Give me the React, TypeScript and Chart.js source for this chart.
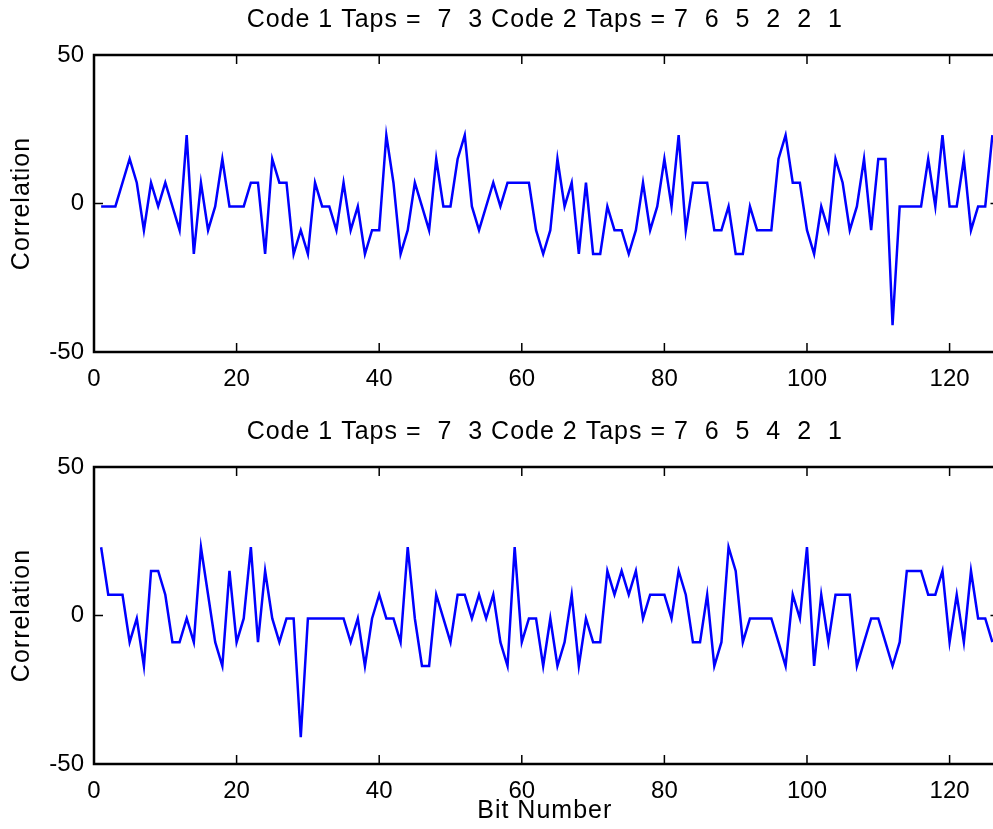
import React, { useEffect, useRef } from "react";
import { Chart, registerables } from "chart.js";

Chart.register(...registerables);

const bitNumbers: number[] = Array.from({ length: 126 }, (_, i) => i + 1);

const corrTop: number[] = [
  -1, -1, -1, 7, 15, 7, -9, 7, -1, 7,
  -1, -9, 23, -17, 7, -9, -1, 15, -1, -1,
  -1, 7, 7, -17, 15, 7, 7, -17, -9, -17,
  7, -1, -1, -9, 7, -9, -1, -17, -9, -9,
  23, 7, -17, -9, 7, -1, -9, 15, -1, -1,
  15, 23, -1, -9, -1, 7, -1, 7, 7, 7,
  7, -9, -17, -9, 15, -1, 7, -17, 7, -17,
  -17, -1, -9, -9, -17, -9, 7, -9, -1, 15,
  -1, 23, -9, 7, 7, 7, -9, -9, -1, -17,
  -17, -1, -9, -9, -9, 15, 23, 7, 7, -9,
  -17, -1, -9, 15, 7, -9, -1, 15, -9, 15,
  15, -41, -1, -1, -1, -1, 15, -1, 23, -1,
  -1, 15, -9, -1, -1, 23,
];

const corrBottom: number[] = [
  23, 7, 7, 7, -9, -1, -17, 15, 15, 7,
  -9, -9, -1, -9, 23, 7, -9, -17, 15, -9,
  -1, 23, -9, 15, -1, -9, -1, -1, -41, -1,
  -1, -1, -1, -1, -1, -9, -1, -17, -1, 7,
  -1, -1, -9, 23, -1, -17, -17, 7, -1, -9,
  7, 7, -1, 7, -1, 7, -9, -17, 23, -9,
  -1, -1, -17, -1, -17, -9, 7, -17, -1, -9,
  -9, 15, 7, 15, 7, 15, -1, 7, 7, 7,
  -1, 15, 7, -9, -9, 7, -17, -9, 23, 15,
  -9, -1, -1, -1, -1, -9, -17, 7, -1, 23,
  -17, 7, -9, 7, 7, 7, -17, -9, -1, -1,
  -9, -17, -9, 15, 15, 15, 7, 7, 15, -9,
  7, -9, 15, -1, -1, -9,
];

const xTickValues: number[] = [0, 20, 40, 60, 80, 100, 120];
const yTickValues: number[] = [-50, 0, 50];

const titleTop = "Code 1 Taps =  7  3 Code 2 Taps = 7  6  5  2  2  1";
const titleBottom = "Code 1 Taps =  7  3 Code 2 Taps = 7  6  5  4  2  1";
const yLabel = "Correlation";
const xLabel = "Bit Number";

const FONT = "'Liberation Sans', Arial, Helvetica, sans-serif";

const matlabPlugin = {
  id: "matlabBox",
  afterDraw(chart: any) {
    const o = chart.options.plugins.matlabBox || {};
    const { ctx, chartArea: a, scales } = chart;
    ctx.save();
    ctx.strokeStyle = "#000";
    ctx.lineWidth = 2.5;
    ctx.strokeRect(a.left, a.top, a.right - a.left, a.bottom - a.top);
    const L = 9;
    ctx.beginPath();
    for (const v of xTickValues) {
      const px = scales.x.getPixelForValue(v);
      ctx.moveTo(px, a.bottom);
      ctx.lineTo(px, a.bottom - L);
      ctx.moveTo(px, a.top);
      ctx.lineTo(px, a.top + L);
    }
    for (const v of yTickValues) {
      const py = scales.y.getPixelForValue(v);
      ctx.moveTo(a.left, py);
      ctx.lineTo(a.left + L, py);
      ctx.moveTo(a.right, py);
      ctx.lineTo(a.right - L, py);
    }
    ctx.lineWidth = 1.5;
    ctx.stroke();

    ctx.fillStyle = "#000";
    ctx.font = `25px ${FONT}`;
    (ctx as any).letterSpacing = "1px";
    ctx.textAlign = "center";
    ctx.textBaseline = "middle";
    if (o.title) ctx.fillText(o.title, (a.left + a.right) / 2 - 2, o.titleY);
    if (o.xLabel) ctx.fillText(o.xLabel, (a.left + a.right) / 2 - 2, o.xLabelY);
    if (o.yLabel) {
      ctx.save();
      ctx.translate(o.yLabelX, (a.top + a.bottom) / 2);
      ctx.rotate(-Math.PI / 2);
      ctx.fillText(o.yLabel, 0, 0);
      ctx.restore();
    }
    (ctx as any).letterSpacing = "0px";
    ctx.restore();
  },
};

function makeChart(
  canvas: HTMLCanvasElement,
  values: number[],
  title: string,
  xAxisHeight: number,
  withXLabel: boolean
) {
  return new Chart(canvas, {
    type: "line",
    data: {
      datasets: [
        {
          data: bitNumbers.map((x, i) => ({ x, y: values[i] })),
          borderColor: "#0000ff",
          borderWidth: 2.5,
          pointRadius: 0,
          tension: 0,
          fill: false,
        },
      ],
    },
    options: {
      animation: false,
      responsive: false,
      devicePixelRatio: 1,
      layout: { padding: { top: 55, right: 10.5, left: 0, bottom: 0 } },
      plugins: {
        legend: { display: false },
        tooltip: { enabled: false },
        title: { display: false },
        matlabBox: {
          title,
          titleY: 20,
          yLabel,
          yLabelX: 22,
          xLabel: withXLabel ? xLabel : "",
          xLabelY: 399,
        },
      } as any,
      scales: {
        x: {
          type: "linear",
          min: 0,
          max: 127,
          afterBuildTicks: (s: any) => {
            s.ticks = xTickValues.map((v) => ({ value: v }));
          },
          afterFit: (s: any) => {
            s.height = xAxisHeight;
          },
          grid: { display: false, drawTicks: false },
          border: { display: false },
          ticks: {
            color: "#000",
            font: { family: FONT, size: 24 },
            padding: 13,
            maxRotation: 0,
            autoSkip: false,
          },
        },
        y: {
          type: "linear",
          min: -50,
          max: 50,
          afterBuildTicks: (s: any) => {
            s.ticks = yTickValues.map((v) => ({ value: v }));
          },
          afterFit: (s: any) => {
            s.width = 94;
          },
          grid: { display: false, drawTicks: false },
          border: { display: false },
          ticks: {
            color: "#000",
            font: { family: FONT, size: 24 },
            padding: 10,
            autoSkip: false,
          },
        },
      },
    } as any,
    plugins: [matlabPlugin],
  });
}

export default function App() {
  const topRef = useRef<HTMLCanvasElement>(null);
  const botRef = useRef<HTMLCanvasElement>(null);

  useEffect(() => {
    const c1 = makeChart(topRef.current!, corrTop, titleTop, 60, false);
    const c2 = makeChart(botRef.current!, corrBottom, titleBottom, 65, true);
    return () => {
      c1.destroy();
      c2.destroy();
    };
  }, []);

  return (
    <div
      style={{
        position: "fixed",
        left: 0,
        top: 0,
        width: 993,
        height: 829,
        overflow: "hidden",
        background: "#fff",
      }}
    >
      <canvas
        ref={topRef}
        width={1010}
        height={412}
        style={{ position: "absolute", left: 0, top: 0, width: 1010, height: 412 }}
      />
      <canvas
        ref={botRef}
        width={1010}
        height={417}
        style={{ position: "absolute", left: 0, top: 412, width: 1010, height: 417 }}
      />
    </div>
  );
}
